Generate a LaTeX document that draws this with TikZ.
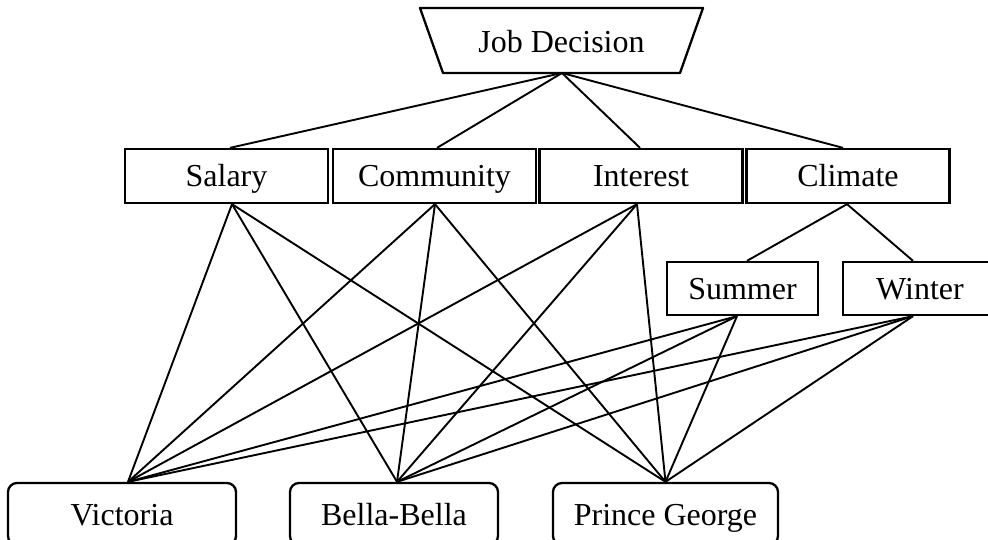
\documentclass[tikz,border=0pt]{standalone}
\usepackage{fontspec}
\setmainfont{Liberation Serif}
\begin{document}
\begin{tikzpicture}[x=1pt,y=-1pt,
  lbl/.style={inner sep=0pt, text height=22pt, text depth=0pt, font=\fontsize{32}{37}\selectfont},
  box/.style={lbl, draw, line width=2.3pt},
  topbox/.style={box, minimum width=203pt, minimum height=54pt},
  subbox/.style={box, minimum height=53pt},
  rbox/.style={box, rounded corners=9pt, minimum height=62pt},
  link/.style={line width=1.9pt}]
\useasboundingbox (0,0) rectangle (988,540);
% Job Decision trapezoid
\draw[line width=2.3pt, line join=round] (420,8) -- (703,8) -- (680,73) -- (443,73) -- cycle;
\node[lbl, anchor=base] (job) at (561.5,53) {Job Decision};
\coordinate (jobB) at (562,73);
% criteria
\node[topbox] (sal) at (226.5,176) {Salary};
\node[topbox] (com) at (434.5,176) {Community};
\node[topbox] (int) at (641,176) {Interest};
\node[topbox] (cli) at (848,176) {Climate};
\node[subbox, minimum width=151pt] (sum) at (742.5,288.5) {Summer};
\node[subbox, minimum width=154pt] (win) at (920,288.5) {Winter};
% alternatives
\node[rbox, minimum width=228pt] (vic) at (122,514) {Victoria};
\node[rbox, minimum width=208pt] (bel) at (394,514) {Bella-Bella};
\node[rbox, minimum width=225pt] (pg) at (665.5,514) {Prince George};
% links from goal
\draw[link] (jobB) -- ([xshift=3.5pt]sal.north);
\draw[link] (jobB) -- ([xshift=2.5pt]com.north);
\draw[link] (jobB) -- ([xshift=-1pt]int.north);
\draw[link] (jobB) -- ([xshift=-5pt]cli.north);
% climate subcriteria
\draw[link] ([xshift=-1pt]cli.south) -- ([xshift=4.5pt]sum.north);
\draw[link] ([xshift=-1pt]cli.south) -- ([xshift=-7pt]win.north);
% criteria to alternatives
\foreach \c/\dx in {sal/5.5, com/0.5, int/-4, sum/-5.5, win/-7} {
  \draw[link] ([xshift=\dx pt]\c.south) -- ([xshift=6pt]vic.north);
  \draw[link] ([xshift=\dx pt]\c.south) -- ([xshift=3pt]bel.north);
  \draw[link] ([xshift=\dx pt]\c.south) -- (pg.north);
}
\end{tikzpicture}
\end{document}
